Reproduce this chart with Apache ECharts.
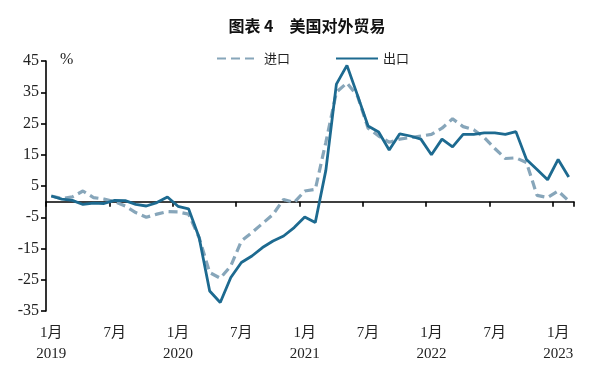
<!DOCTYPE html>
<html>
<head>
<meta charset="utf-8">
<script src="https://cdn.jsdelivr.net/npm/echarts@6/dist/echarts.min.js"></script>
<style>html,body{margin:0;padding:0;background:#fff}#c{width:607px;height:369px}</style>
</head>
<body>
<div id="c"></div>
<script>
// Months Jan 2019 - Feb 2023
const years = [2019,2019,2019,2019,2019,2019,2019,2019,2019,2019,2019,2019,
  2020,2020,2020,2020,2020,2020,2020,2020,2020,2020,2020,2020,
  2021,2021,2021,2021,2021,2021,2021,2021,2021,2021,2021,2021,
  2022,2022,2022,2022,2022,2022,2022,2022,2022,2022,2022,2022,
  2023,2023];
const months = [1,2,3,4,5,6,7,8,9,10,11,12,1,2,3,4,5,6,7,8,9,10,11,12,
  1,2,3,4,5,6,7,8,9,10,11,12,1,2,3,4,5,6,7,8,9,10,11,12,1,2];
// 进口 (imports), YoY %
const imports = [1.8,1.0,1.5,3.4,1.3,0.8,0.0,-1.4,-3.5,-5.0,-4.0,-3.2,
  -3.3,-4.0,-11.5,-22.7,-24.5,-20.6,-12.6,-9.9,-7.0,-4.1,0.7,-0.3,
  3.4,3.9,19.0,35.0,38.0,33.8,23.5,21.0,19.0,20.0,20.5,21.0,
  21.5,23.5,26.5,24.0,23.0,20.5,17.0,13.8,14.0,12.5,2.0,1.3,
  3.4,0.2];
// 出口 (exports), YoY %
const exportsArr = [1.8,0.8,0.4,-0.9,-0.5,-0.6,0.4,0.3,-0.9,-1.4,-0.3,1.5,
  -1.5,-2.3,-11.5,-28.6,-32.3,-24.3,-19.5,-17.4,-14.7,-12.6,-11.0,-8.3,
  -4.9,-6.7,10.0,37.6,43.6,34.0,24.2,22.3,16.5,21.7,21.0,20.0,
  15.0,20.0,17.5,21.5,21.5,22.0,22.0,21.5,22.4,13.5,10.3,7.0,
  13.5,7.9];
const yTicks = [-35,-25,-15,-5,5,15,25,35,45];
const seriesNames = ['进口','出口'];
const titleText = '图表 4\u3000美国对外贸易';

const categories = years.map((y,i)=> y + '-' + months[i]);
const serif = '"Liberation Serif", "Noto Sans CJK SC", serif';
const chart = echarts.init(document.getElementById('c'));
chart.setOption({
  animation: false,
  backgroundColor: '#fff',
  title: {
    text: titleText, top: 13, left: 302, textAlign: 'center',
    textStyle: {fontFamily: '"Noto Sans CJK SC", sans-serif', fontSize: 16, fontWeight: 'bold', color: '#111'}
  },
  legend: {
    data: seriesNames, left: 211, top: 47, itemWidth: 42, itemHeight: 14, itemGap: 45, itemTextGap: 6,
    itemStyle: {opacity: 0},
    textStyle: {fontFamily: '"Noto Sans CJK SC", sans-serif', fontSize: 13, color: '#222'}
  },
  graphic: [{type: 'text', left: 60, top: 52, style: {text: '%', font: '16px "Liberation Serif", serif', fill: '#222'}}],
  grid: {left: 46, right: 33, top: 61, bottom: 58},
  xAxis: [{
    type: 'category', data: categories, position: 'bottom', boundaryGap: true,
    axisLine: {show: false, onZero: false}, axisTick: {show: false},
    axisLabel: {
      interval: 5, margin: 12, lineHeight: 21,
      fontFamily: serif, fontSize: 15, color: '#222',
      formatter: (v, i) => months[i] === 1 ? months[i] + '月\n' + years[i] : months[i] + '月'
    }
  }, {
    type: 'category', data: categories, position: 'bottom', boundaryGap: true,
    axisLine: {show: true, onZero: true, lineStyle: {color: '#000', width: 1.6}},
    axisTick: {show: true, interval: 5, length: 5, lineStyle: {color: '#000', width: 1.6}},
    axisLabel: {show: false}
  }],
  yAxis: {
    type: 'value', min: -35, max: 45,
    axisLine: {show: true, lineStyle: {color: '#000', width: 1.6}},
    axisTick: {show: true, length: 5, customValues: yTicks, lineStyle: {color: '#000', width: 1.6}},
    axisLabel: {customValues: yTicks, margin: 7, fontFamily: serif, fontSize: 16, color: '#222'},
    splitLine: {show: false}
  },
  series: [{
    name: seriesNames[0], type: 'line', xAxisIndex: 0, data: imports, symbol: 'none',
    lineStyle: {color: '#87a6ba', width: 3.2, type: [9, 5]}, itemStyle: {color: '#87a6ba'}, z: 2
  }, {
    name: seriesNames[1], type: 'line', xAxisIndex: 0, data: exportsArr, symbol: 'none',
    lineStyle: {color: '#1d6a90', width: 2.8}, itemStyle: {color: '#1d6a90'}, z: 3
  }]
});
</script>
</body>
</html>
